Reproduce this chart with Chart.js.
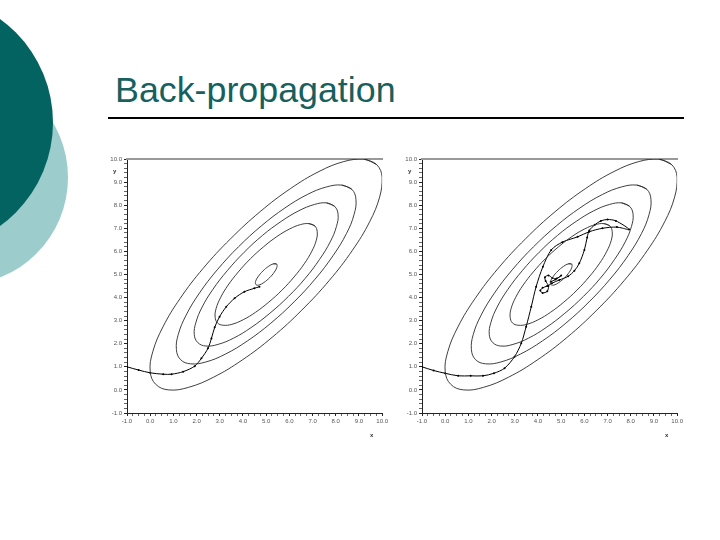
<!DOCTYPE html>
<html><head><meta charset="utf-8">
<script src="https://cdn.jsdelivr.net/npm/chart.js@4.4.0/dist/chart.umd.min.js"></script>
<style>
html,body{margin:0;padding:0;background:#fff;width:720px;height:540px;overflow:hidden;position:relative;font-family:"Liberation Sans",Arial,sans-serif}
.circ{position:absolute;border-radius:50%}
#light{left:-147px;top:69.5px;width:215px;height:215px;background:#9ccccc}
#dark{left:-202px;top:-4.6px;width:255px;height:255px;background:#036361}
#title{position:absolute;left:115px;top:70px;font-size:35.8px;line-height:40px;color:#17605e;white-space:nowrap}
#rule{position:absolute;left:108px;top:117px;width:576px;height:2px;background:#000}
canvas{position:absolute}
.ax{position:absolute;font-size:6px;font-weight:bold;color:#333;line-height:6px}
</style></head>
<body>
<div id="light" class="circ"></div>
<div id="dark" class="circ"></div>
<div id="title">Back-propagation</div>
<div id="rule"></div>
<canvas id="c1" width="290" height="290" style="left:100px;top:150px"></canvas>
<canvas id="c2" width="290" height="290" style="left:395px;top:150px"></canvas>
<div class="ax" style="left:113px;top:168px">y</div>
<div class="ax" style="left:370px;top:432px">x</div>
<div class="ax" style="left:408px;top:168px">y</div>
<div class="ax" style="left:665px;top:432px">x</div>
<script>
// Axis range and tick labels
const axisMin = -1, axisMax = 10;
const tickLabels = ['-1.0','0.0','1.0','2.0','3.0','4.0','5.0','6.0','7.0','8.0','9.0','10.0'];

// Error-surface contours (same in both panels)
const contourA = [[9.76,9.76],[9.20,10.00],[8.35,9.89],[7.28,9.46],[6.05,8.72],[4.74,7.72],[3.46,6.54],[2.28,5.26],[1.29,3.96],[0.55,2.73],[0.11,1.65],[0.00,0.80],[0.24,0.24],[0.80,0.00],[1.65,0.11],[2.73,0.55],[3.96,1.29],[5.26,2.28],[6.54,3.46],[7.72,4.74],[8.72,6.05],[9.46,7.28],[9.89,8.35],[10.00,9.20]];
const contourB = [[8.69,8.69],[8.26,8.87],[7.60,8.79],[6.77,8.46],[5.81,7.88],[4.80,7.11],[3.81,6.20],[2.89,5.20],[2.12,4.19],[1.55,3.24],[1.21,2.40],[1.13,1.74],[1.31,1.31],[1.74,1.13],[2.40,1.21],[3.24,1.55],[4.19,2.12],[5.20,2.89],[6.20,3.81],[7.11,4.80],[7.88,5.81],[8.46,6.77],[8.79,7.60],[8.87,8.26]];
const contourC = [[7.95,7.95],[7.60,8.10],[7.08,8.03],[6.41,7.76],[5.65,7.30],[4.84,6.69],[4.05,5.96],[3.32,5.16],[2.70,4.35],[2.24,3.59],[1.97,2.92],[1.90,2.40],[2.05,2.05],[2.40,1.90],[2.92,1.97],[3.59,2.24],[4.35,2.70],[5.16,3.32],[5.96,4.05],[6.69,4.84],[7.30,5.65],[7.76,6.41],[8.03,7.08],[8.10,7.60]];
const contourD = [[7.10,7.10],[6.85,7.20],[6.48,7.16],[6.01,6.97],[5.46,6.64],[4.89,6.20],[4.32,5.68],[3.80,5.11],[3.36,4.54],[3.04,4.01],[2.84,3.52],[2.80,3.15],[2.90,2.90],[3.15,2.80],[3.52,2.84],[4.01,3.04],[4.54,3.36],[5.11,3.80],[5.68,4.32],[6.20,4.89],[6.64,5.46],[6.97,6.01],[7.16,6.48],[7.20,6.85]];
const contourE = [[5.45,5.45],[5.31,5.46],[5.10,5.35],[4.86,5.15],[4.65,4.90],[4.54,4.69],[4.56,4.56],[4.69,4.54],[4.90,4.65],[5.15,4.86],[5.35,5.10],[5.46,5.31]];

// Weight trajectories
const trajLeft = [[-1.0,1.0],[-0.5,0.86],[0.0,0.74],[0.56,0.68],[0.92,0.68],[1.42,0.79],[1.92,1.03],[2.21,1.37],[2.49,1.80],[2.64,2.23],[2.78,2.71],[2.99,3.17],[3.28,3.60],[3.64,3.97],[4.06,4.25],[4.49,4.40],[4.71,4.47]];
const trajRight = [[-1.0,1.0],[-0.5,0.84],[0.0,0.72],[0.56,0.61],[1.1,0.61],[1.63,0.61],[2.1,0.72],[2.56,0.94],[2.99,1.44],[3.28,2.02],[3.49,2.74],[3.71,3.60],[3.92,4.47],[4.21,5.33],[4.57,6.06],[5.05,6.40],[5.71,6.63],[6.21,6.85],[6.78,7.0],[7.4,7.05],[7.93,6.95],[7.36,7.32],[7.0,7.38],[6.71,7.32],[6.45,7.15],[6.21,6.9],[6.12,6.6],[6.0,6.06],[5.78,5.48],[5.57,5.16],[5.3,4.92],[4.92,4.76],[4.6,4.62],[4.4,4.5],[4.2,4.42],[4.1,4.3],[4.2,4.2],[4.4,4.27],[4.45,4.5],[4.33,4.72],[4.3,4.88],[4.45,4.96],[4.62,4.85],[4.8,4.82],[5.0,4.95],[4.75,4.78],[4.55,4.68]];

const contours = [contourA, contourB, contourC, contourD, contourE];
const toXY = arr => arr.map(p => ({x:p[0], y:p[1]}));
const closeLoop = arr => arr.concat([arr[0], arr[1]]);
const isInt = v => Math.abs(v - Math.round(v)) < 1e-6;
const labelFor = v => isInt(v) ? tickLabels[Math.round(v) - axisMin] : '';

function axis(step, pos, fit){
  return {
    type:'linear', min:axisMin, max:axisMax, position:pos,
    afterFit: fit,
    ticks:{stepSize:step, autoSkip:false, maxRotation:0, minRotation:0, padding:2,
      font:{size:6, family:'Liberation Sans'}, color:'#555', callback:(v)=>labelFor(v)},
    grid:{drawOnChartArea:false, drawTicks:true, tickLength:3,
      color:(c)=> (c.tick && isInt(c.tick.value)) ? '#222' : '#666', lineWidth:1},
    border:{display:true, color:'#222', width:1}
  };
}

function makeChart(id, traj){
  const ds = contours.map(c => ({data: toXY(closeLoop(c)), showLine:true, borderColor:'#2a2a2a', borderWidth:0.9, pointRadius:0, tension:0.4, clip:0}));
  ds.push({data: toXY(traj), showLine:true, borderColor:'#000', borderWidth:1, pointRadius:1, pointBackgroundColor:'#000', pointBorderWidth:0, tension:0.3, clip:0});
  new Chart(document.getElementById(id), {
    type:'scatter',
    data:{datasets: ds},
    options:{
      responsive:false, animation:false, devicePixelRatio:1,
      layout:{padding:{top:9, right:7, left:0, bottom:0}},
      plugins:{legend:{display:false}, tooltip:{enabled:false}},
      scales:{
        x: axis(0.25, 'bottom', s => { s.height = 27; }),
        y: axis(0.2, 'left', s => { s.width = 27; }),
        x2:{type:'linear', position:'top', min:axisMin, max:axisMax,
          ticks:{display:false}, grid:{display:false},
          border:{display:true, color:'#999', width:2},
          afterFit: s => { s.height = 0; }}
      }
    }
  });
}
makeChart('c1', trajLeft);
makeChart('c2', trajRight);
</script>
</body></html>
